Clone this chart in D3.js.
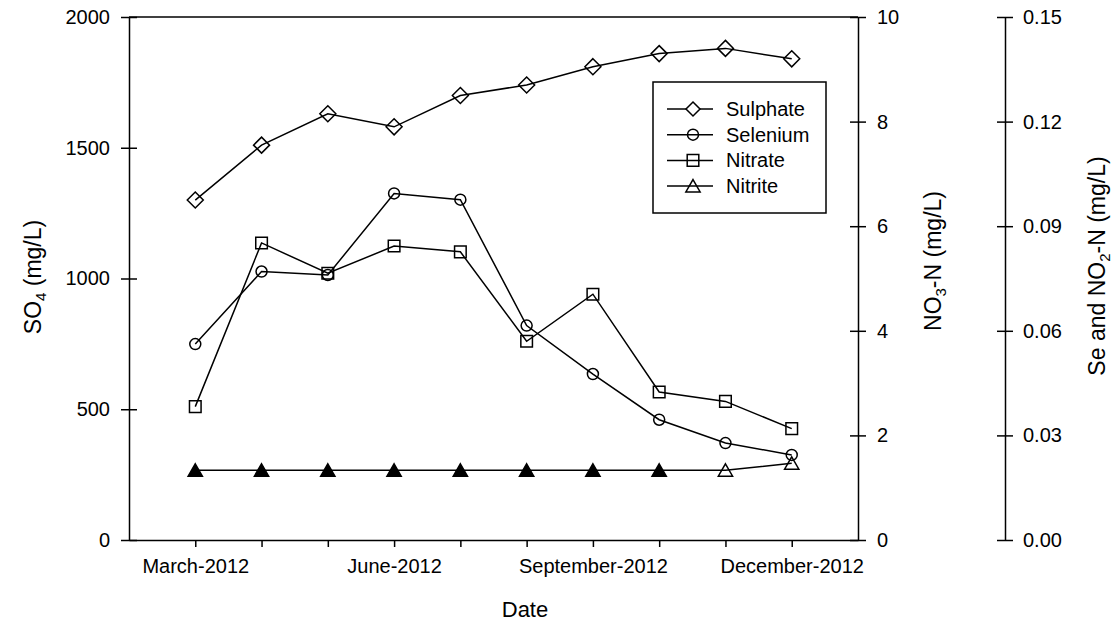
<!DOCTYPE html>
<html>
<head>
<meta charset="utf-8">
<script src="https://cdn.jsdelivr.net/npm/d3@7"></script>
<style>
  html, body { margin: 0; padding: 0; background: #fff; }
  svg { display: block; font-family: "Liberation Sans", Arial, sans-serif; }
</style>
</head>
<body>
<svg id="chart" width="1114" height="624"></svg>
<script>
// Monthly sampling, March to December 2012 (month numbers)
const months = [3, 4, 5, 6, 7, 8, 9, 10, 11, 12];
const monthLabels = { 3: "March-2012", 6: "June-2012", 9: "September-2012", 12: "December-2012" };

// Sulphate, SO4 (mg/L) - left axis
const sulphate = [1300, 1510, 1630, 1580, 1700, 1740, 1810, 1860, 1880, 1840];
// Nitrate, NO3-N (mg/L) - first right axis
const nitrate = [2.55, 5.68, 5.10, 5.62, 5.51, 3.80, 4.70, 2.83, 2.65, 2.13];
// Selenium, Se (mg/L) - second right axis
const selenium = [0.0562, 0.0770, 0.0760, 0.0994, 0.0976, 0.0615, 0.0476, 0.0345, 0.0278, 0.0244];
// Nitrite, NO2-N (mg/L) - second right axis; filled = below detection limit
const nitrite = [0.020, 0.020, 0.020, 0.020, 0.020, 0.020, 0.020, 0.020, 0.020, 0.022];
const nitriteBelowDL = [true, true, true, true, true, true, true, true, false, false];

const so4Ticks = [0, 500, 1000, 1500, 2000];
const no3Ticks = [0, 2, 4, 6, 8, 10];
const seTicks = [0, 0.03, 0.06, 0.09, 0.12, 0.15];

const svg = d3.select("#chart");
const plotLeft = 129, plotRight = 858, plotTop = 17, plotBottom = 540;
const axis3X = 1005;
const FONT = 20;
const TITLE_FONT = 23;

const x = d3.scaleLinear().domain([2, 13]).range([plotLeft, plotRight]);
const ySO4 = d3.scaleLinear().domain([0, 2000]).range([plotBottom, plotTop]);
const yNO3 = d3.scaleLinear().domain([0, 10]).range([plotBottom, plotTop]);
const ySe = d3.scaleLinear().domain([0, 0.15]).range([plotBottom, plotTop]);

function styleAxis(g) {
  g.selectAll("path, line").attr("stroke", "#000").attr("stroke-width", 1.5);
  g.selectAll("text").attr("font-size", FONT).attr("fill", "#000")
    .attr("font-family", "'Liberation Sans', Arial, sans-serif");
}

// Bottom axis (Date)
const gx = svg.append("g").attr("transform", `translate(0,${plotBottom})`)
  .call(d3.axisBottom(x).tickValues(months).tickSizeInner(7).tickSizeOuter(0)
    .tickPadding(12).tickFormat(m => monthLabels[m] || ""));
styleAxis(gx);

// Top frame line
svg.append("line").attr("x1", plotLeft).attr("x2", plotRight).attr("y1", plotTop).attr("y2", plotTop)
  .attr("stroke", "#000").attr("stroke-width", 1.5);

// Left axis (SO4)
const gl = svg.append("g").attr("transform", `translate(${plotLeft},0)`)
  .call(d3.axisLeft(ySO4).tickValues(so4Ticks).tickSizeInner(8).tickSizeOuter(0)
    .tickPadding(11).tickFormat(d3.format("d")));
gl.selectAll(".tick line").attr("x1", 8);
styleAxis(gl);

// First right axis (NO3-N)
const gr = svg.append("g").attr("transform", `translate(${plotRight},0)`)
  .call(d3.axisRight(yNO3).tickValues(no3Ticks).tickSizeInner(8).tickSizeOuter(0)
    .tickPadding(11).tickFormat(d3.format("d")));
gr.selectAll(".tick line").attr("x1", -8);
styleAxis(gr);

// Second right axis (Se and NO2-N)
const gs = svg.append("g").attr("transform", `translate(${axis3X},0)`)
  .call(d3.axisRight(ySe).tickValues(seTicks).tickSizeInner(8).tickSizeOuter(0)
    .tickPadding(10).tickFormat(d3.format(".2f")));
gs.selectAll(".tick line").attr("x1", -8);
styleAxis(gs);

// Axis titles
svg.append("text").attr("x", 525).attr("y", 617)
  .attr("text-anchor", "middle").attr("font-size", 22).text("Date");

function rotatedTitle(cx, cy, parts) {
  const t = svg.append("text").attr("transform", `translate(${cx},${cy}) rotate(-90)`)
    .attr("text-anchor", "middle").attr("font-size", TITLE_FONT);
  parts.forEach(p => {
    const ts = t.append("tspan").text(p.text);
    if (p.sub) ts.attr("font-size", 15).attr("dy", 5);
    else if (p.after) ts.attr("dy", -5);
  });
}
rotatedTitle(41, 277, [{ text: "SO" }, { text: "4", sub: true }, { text: " (mg/L)", after: true }]);
rotatedTitle(941, 261, [{ text: "NO" }, { text: "3", sub: true }, { text: "-N (mg/L)", after: true }]);
rotatedTitle(1105, 266, [{ text: "Se and NO" }, { text: "2", sub: true }, { text: "-N (mg/L)", after: true }]);

// Marker shapes
const symbols = {
  diamond: s => `M0,${-s}L${s},0L0,${s}L${-s},0Z`,
  circle: s => `M${s},0A${s},${s} 0 1,1 ${-s},0A${s},${s} 0 1,1 ${s},0Z`,
  square: s => `M${-s},${-s}H${s}V${s}H${-s}Z`,
  triangle: s => `M0,${-s * 1.05}L${s * 1.15},${s * 0.95}L${-s * 1.15},${s * 0.95}Z`
};
const sizes = { diamond: 8, circle: 5.5, square: 5.8, triangle: 6.2 };

function drawSeries(values, yScale, shape, fills) {
  const pts = months.map((m, i) => [x(m), yScale(values[i])]);
  svg.append("path").attr("d", d3.line()(pts))
    .attr("fill", "none").attr("stroke", "#000").attr("stroke-width", 1.5);
  svg.append("g").selectAll("path").data(pts).join("path")
    .attr("transform", d => `translate(${d[0]},${d[1]})`)
    .attr("d", symbols[shape](sizes[shape]))
    .attr("fill", (d, i) => fills ? fills[i] : "none")
    .attr("stroke", "#000").attr("stroke-width", 1.5);
}

drawSeries(sulphate, ySO4, "diamond");
drawSeries(selenium, ySe, "circle");
drawSeries(nitrate, yNO3, "square");
drawSeries(nitrite, ySe, "triangle", nitriteBelowDL.map(b => b ? "#000" : "none"));

// Legend
const legend = svg.append("g");
legend.append("rect").attr("x", 653).attr("y", 82).attr("width", 173).attr("height", 131)
  .attr("fill", "#fff").attr("stroke", "#000").attr("stroke-width", 1.5);
const legendItems = [
  { name: "Sulphate", shape: "diamond" },
  { name: "Selenium", shape: "circle" },
  { name: "Nitrate", shape: "square" },
  { name: "Nitrite", shape: "triangle" }
];
legendItems.forEach((d, i) => {
  const cy = 109 + i * 25.7;
  legend.append("line").attr("x1", 667).attr("x2", 713).attr("y1", cy).attr("y2", cy)
    .attr("stroke", "#000").attr("stroke-width", 1.5);
  legend.append("path").attr("transform", `translate(693,${cy})`)
    .attr("d", symbols[d.shape](d.shape === "diamond" ? 7 : sizes[d.shape]))
    .attr("fill", d.shape === "diamond" ? "#fff" : "none")
    .attr("stroke", "#000").attr("stroke-width", 1.5);
  legend.append("text").attr("x", 726).attr("y", cy + 7).attr("font-size", FONT).text(d.name);
});
</script>
</body>
</html>
